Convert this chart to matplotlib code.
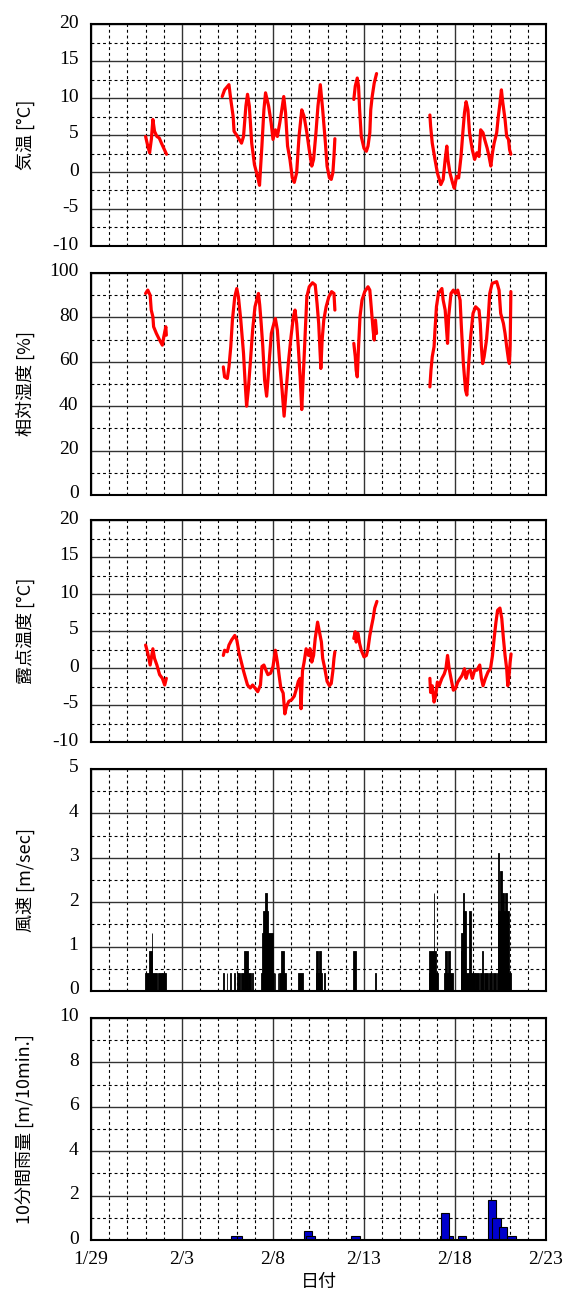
import numpy as np
import matplotlib
matplotlib.use("Agg")
import matplotlib.pyplot as plt
import matplotlib.transforms as mtransforms
from matplotlib.ticker import MultipleLocator, FixedLocator

plt.rcParams["axes.unicode_minus"] = False

nan = np.nan

# x axis: days since 1/29
date_labels = ["1/29", "2/3", "2/8", "2/13", "2/18", "2/23"]
date_ticks = [0, 5, 10, 15, 20, 25]

# air temperature [C] (nan = gap in record)
temp_day = [3.0, 3.12, 3.22, 3.32, 3.4, 3.49, 3.62, 3.75, 3.87, 4.0, 4.15, nan,
            7.21, 7.34, 7.58, 7.68, 7.81, 7.86, 8.05, 8.27, 8.38, 8.51, 8.6, 8.7, 8.83, 8.98,
            9.13, 9.26, 9.31, 9.39, 9.5, 9.59, 9.76, 9.9, 10.0, 10.13, 10.24, 10.37, 10.46,
            10.59, 10.69, 10.8, 10.93, 11.06, 11.17, 11.3, 11.43, 11.58, 11.71, 11.86, 11.99,
            12.13, 12.23, 12.36, 12.47, 12.6, 12.73, 12.88, 12.97, 13.1, 13.2, 13.29, 13.35,
            13.4, nan,
            14.44, 14.52, 14.63, 14.7, 14.76, 14.85, 15.0, 15.13, 15.22, 15.32, 15.37, 15.45,
            15.56, 15.69, nan,
            18.62, 18.66, 18.75, 18.9, 19.03, 19.22, 19.35, 19.46, 19.55, 19.61, 19.72, 19.87,
            19.96, 20.09, 20.2, 20.33, 20.43, 20.52, 20.61, 20.71, 20.8, 20.95, 21.08, 21.2,
            21.32, 21.41, 21.54, 21.63, 21.77, 21.87, 21.97, 22.06, 22.15, 22.29, 22.38, 22.47,
            22.55, 22.62, 22.75, 22.84, 22.94, 23.0, 23.07]
temp_val = [4.8, 3.5, 2.6, 4.5, 7.1, 5.5, 4.8, 4.6, 3.9, 3.2, 2.4, nan,
            10.2, 11.1, 11.8, 9.8, 7.5, 5.5, 4.8, 3.9, 4.8, 8.9, 10.5, 8.9, 3.9, 1.0,
            -0.4, -1.8, 0.3, 3.5, 8.4, 10.7, 8.9, 6.6, 4.4, 5.7, 4.8, 6.6, 8.0,
            10.2, 8.0, 3.5, 1.7, -0.8, -1.4, -0.1, 4.8, 8.4, 7.5, 5.3, 3.0,
            0.8, 1.7, 5.3, 8.9, 11.8, 8.4, 3.9, 0.8, -0.8, -1.0, -0.1, 2.1,
            4.5, nan,
            9.8, 11.6, 12.7, 11.6, 8.4, 4.8, 3.2, 2.8, 3.5, 5.3, 8.4, 10.2,
            12.0, 13.3, nan,
            7.7, 6.2, 3.9, 1.7, -0.1, -1.7, -1.0, 1.7, 3.5, 1.7, -0.1, -1.5,
            -2.2, -0.6, -0.8, 2.1, 5.3, 8.0, 9.5, 8.4, 5.3, 3.0, 1.7, 2.6,
            2.1, 5.7, 5.3, 4.4, 3.2, 2.1, 0.8, 2.6, 3.9, 5.3, 7.5, 9.3,
            11.1, 9.5, 7.1, 4.8, 4.4, 3.0, 2.4]

# relative humidity [%]
rh_day = [3.0, 3.12, 3.25, 3.31, 3.4, 3.44, 3.59, 3.77, 3.92, 4.0, 4.11, 4.14, nan,
          7.27, 7.34, 7.49, 7.58, 7.68, 7.77, 7.9, 8.01, 8.1, 8.23, 8.38, 8.46, 8.55, 8.64,
          8.75, 8.88, 9.01, 9.2, 9.27, 9.35, 9.44, 9.54, 9.65, 9.72, 9.81, 9.91, 10.0, 10.13,
          10.24, 10.37, 10.5, 10.61, 10.71, 10.84, 10.99, 11.12, 11.21, 11.3, 11.39, 11.49,
          11.58, 11.67, 11.77, 11.86, 11.99, 12.17, 12.32, 12.42, 12.51, 12.58, 12.63, 12.7,
          12.79, 12.92, 13.07, 13.22, 13.35, 13.4, nan,
          14.44, 14.52, 14.57, 14.63, 14.7, 14.78, 14.89, 15.04, 15.22, 15.32, 15.41, 15.5,
          15.56, 15.63, 15.69, nan,
          18.62, 18.68, 18.75, 18.85, 18.9, 18.98, 19.09, 19.28, 19.35, 19.46, 19.59, 19.65,
          19.78, 19.91, 20.02, 20.15, 20.28, 20.35, 20.46, 20.58, 20.65, 20.74, 20.86, 20.99,
          21.13, 21.32, 21.39, 21.45, 21.52, 21.6, 21.73, 21.82, 21.91, 22.04, 22.29, 22.42,
          22.51, 22.66, 22.75, 22.84, 22.94, 22.99, 23.03, 23.07]
rh_val = [90.8, 92.3, 90.0, 83.3, 80.3, 75.8, 72.8, 69.8, 67.5, 71.3, 75.8, 72.0, nan,
          57.7, 53.2, 52.5, 57.7, 66.8, 78.8, 89.3, 93.0, 89.3, 78.8, 63.8, 51.7, 40.0, 47.2,
          59.2, 74.3, 84.8, 90.8, 85.6, 77.3, 66.8, 51.7, 44.5, 51.7, 62.3, 72.8, 75.8, 79.5,
          74.3, 59.2, 47.2, 35.5, 45.7, 59.2, 71.3, 80.3, 83.3, 77.3, 66.8, 53.2,
          38.5, 54.7, 72.8, 89.3, 93.8, 95.6, 94.6, 86.3, 77.3, 65.3, 57.0, 69.8,
          78.8, 84.8, 89.3, 91.6, 90.8, 83.3, nan,
          68.3, 62.3, 56.2, 53.2, 66.8, 80.3, 87.8, 91.6, 93.8, 92.3, 83.3, 74.3,
          69.8, 78.8, 72.8, nan,
          48.7, 56.2, 62.3, 66.8, 74.3, 84.8, 90.8, 93.0, 87.8, 83.3, 68.3, 80.3,
          90.8, 92.3, 90.8, 92.3, 87.8, 75.8, 59.2, 47.2, 45.0, 57.7, 71.3, 81.8,
          84.8, 83.3, 77.3, 66.8, 59.2, 62.3, 69.8, 78.8, 90.8, 95.3, 96.1, 92.3,
          81.8, 77.3, 72.8, 66.8, 60.8, 59.2, 66.8, 91.6]

# dew point [C]
dew_day = [3.0, 3.12, 3.25, 3.4, 3.49, 3.62, 3.77, 3.92, 4.05, 4.14, nan,
           7.27, 7.34, 7.49, 7.58, 7.73, 7.9, 8.01, 8.14, 8.27, 8.38, 8.46, 8.6, 8.75, 8.88,
           9.01, 9.16, 9.31, 9.39, 9.5, 9.63, 9.72, 9.87, 10.0, 10.13, 10.24, 10.33, 10.43,
           10.56, 10.65, 10.74, 10.87, 11.02, 11.17, 11.3, 11.39, 11.49, 11.54, 11.62, 11.71,
           11.82, 11.95, 12.04, 12.13, 12.23, 12.32, 12.45, 12.55, 12.66, 12.73, 12.84, 12.97,
           13.1, 13.2, 13.29, 13.35, 13.4, nan,
           14.44, 14.52, 14.57, 14.67, 14.76, 14.85, 15.0, 15.13, 15.22, 15.32, 15.41, 15.5,
           15.59, 15.71, nan,
           18.62, 18.66, 18.75, 18.85, 18.94, 19.03, 19.13, 19.28, 19.41, 19.5, 19.59, 19.68,
           19.78, 19.91, 20.02, 20.15, 20.28, 20.39, 20.52, 20.61, 20.71, 20.84, 20.95, 21.08,
           21.2, 21.36, 21.45, 21.54, 21.67, 21.82, 21.95, 22.06, 22.15, 22.25, 22.34, 22.47,
           22.57, 22.66, 22.75, 22.84, 22.9, 22.97, 23.03, 23.08]
dew_val = [3.1, 2.0, 0.4, 2.6, 1.3, 0.4, -0.9, -1.4, -2.3, -1.4, nan,
           1.7, 2.4, 2.2, 3.1, 3.8, 4.4, 3.8, 2.0, 0.7, -0.4, -1.1, -2.3, -2.7, -2.3,
           -2.7, -3.2, -2.3, 0.2, 0.4, -0.4, -0.9, -0.7, 0.2, 2.4, 0.8, -0.9, -2.7,
           -3.4, -6.2, -5.2, -4.5, -4.3, -3.8, -2.7, -1.8, -1.4, -5.5, -0.4, 0.8,
           2.6, 1.7, 2.6, 0.8, 1.7, 4.0, 6.2, 4.9, 3.5, 1.3, 0.0, -1.8,
           -2.4, -2.1, -0.4, 1.3, 2.2, nan,
           4.0, 4.9, 3.5, 4.7, 3.3, 2.4, 1.5, 1.7, 2.6, 4.4, 5.6, 6.7,
           8.1, 9.0, nan,
           -1.4, -3.3, -2.4, -4.6, -3.7, -1.9, -2.4, -1.4, -0.8, -0.1, 1.7, -0.1,
           -1.4, -3.0, -2.8, -1.9, -1.4, -1.0, -0.1, -1.4, -0.5, -0.3, -1.4, -0.3,
           -0.3, 0.4, -1.4, -2.4, -1.4, -0.5, -0.1, 1.7, 4.0, 6.2, 7.8, 8.1,
           6.7, 4.0, 1.7, -0.1, -2.4, -1.0, 0.8, 1.9]

# wind speed [m/sec]: start day, end day, value
wind_start = [2.99, 3.21, 3.33, 3.37, 3.66, 3.92,
              7.27, 7.46, 7.64, 7.87, 8.02, 8.05, 8.24, 8.43, 8.65, 8.85,
              9.36, 9.39, 9.45, 9.54, 10.1, 10.25, 10.33, 10.44, 11.37,
              12.34, 12.37, 12.52, 12.82, 14.42, 15.61,
              18.59, 18.59, 18.84, 19.41, 19.45, 19.64,
              20.31, 20.31, 20.34, 20.44, 20.45, 20.75,
              21.09, 21.35, 21.6, 21.85, 21.49,
              22.11, 22.3, 22.36, 22.38, 22.48, 22.58, 22.76]
wind_end = [3.21, 3.33, 3.37, 3.62, 3.88, 4.1,
            7.30, 7.49, 7.67, 7.90, 8.05, 8.2, 8.42, 8.65, 8.8, 8.88,
            10.07, 9.99, 9.73, 9.65, 10.13, 10.28, 10.7, 10.62, 11.63,
            12.67, 12.45, 12.62, 12.85, 14.57, 15.64,
            19.04, 18.97, 18.87, 19.88, 19.56, 19.75,
            21.09, 20.38, 20.57, 20.62, 20.48, 20.87,
            21.3, 21.55, 21.8, 22.02, 21.52,
            22.26, 23.05, 22.95, 22.41, 22.56, 22.67, 22.86]
wind_val = [0.4, 0.9, 1.3, 0.4, 0.4, 0.4,
            0.4, 0.4, 0.4, 0.4, 0.4, 0.4, 0.4, 0.9, 0.4, 0.4,
            0.4, 1.3, 1.8, 2.2, 0.4, 0.4, 0.4, 0.9, 0.4,
            0.4, 0.9, 0.9, 0.4, 0.9, 0.4,
            0.4, 0.9, 2.2, 0.4, 0.9, 0.9,
            0.4, 0.9, 1.3, 1.8, 2.2, 1.8,
            0.4, 0.4, 0.4, 0.4, 0.9,
            0.4, 0.4, 1.8, 3.1, 2.7, 2.2, 2.2]

# 10-minute rainfall: start day, end day, value
rain_start = [7.71, 8.0, 11.7, 11.84, 14.31, 19.19, 19.25, 20.15, 21.8, 22.05, 22.41, 22.85]
rain_end = [8.0, 8.31, 12.14, 12.3, 14.76, 19.89, 19.69, 20.6, 22.25, 22.5, 22.85, 23.37]
rain_val = [0.2, 0.2, 0.4, 0.2, 0.2, 0.2, 1.2, 0.2, 1.8, 1.0, 0.6, 0.2]

ylabels = ["気温 [°C]", "相対湿度 [%]", "露点温度 [°C]", "風速 [m/sec]", "10分間雨量 [m/10min.]"]
ylims = [(-10, 20), (0, 100), (-10, 20), (0, 5), (0, 10)]
ysteps = [5, 20, 5, 1, 2]

jp_font = ["Noto Sans CJK JP", "DejaVu Sans"]
num_font = "Liberation Serif"

W, H = 565, 1289
fig = plt.figure(figsize=(W / 100, H / 100), dpi=100)
left, width, height = 91, 455, 222
tops = [24, 273, 520, 769, 1018]

# small upward nudge of y tick labels, as in the original
lift = mtransforms.ScaledTranslation(0, 3 / 100, fig.dpi_scale_trans)

axes = []
for i, top in enumerate(tops):
    ax = fig.add_axes([left / W, 1 - (top + height) / H, width / W, height / H])
    lo, hi = ylims[i]
    ax.set_xlim(0, 25)
    ax.set_ylim(lo, hi)
    ax.xaxis.set_major_locator(FixedLocator(date_ticks))
    ax.xaxis.set_minor_locator(MultipleLocator(1))
    ax.yaxis.set_major_locator(MultipleLocator(ysteps[i]))
    ax.yaxis.set_minor_locator(MultipleLocator(ysteps[i] / 2))
    ax.grid(which="major", color="#333333", lw=1.0, ls="-")
    ax.grid(which="minor", color="black", lw=0.8, ls=(0, (2.6, 2.6)))
    ax.set_axisbelow(True)
    ax.tick_params(which="both", length=0)
    ax.tick_params(axis="y", pad=9, labelsize=14)
    for lab in ax.get_yticklabels():
        lab.set_fontfamily(num_font)
        lab.set_transform(lab.get_transform() + lift)
    if i < 4:
        ax.set_xticklabels([])
    else:
        ax.set_xticklabels(date_labels, fontfamily=num_font, fontsize=14)
        ax.tick_params(axis="x", pad=8)
    for s in ax.spines.values():
        s.set_linewidth(1.5)
        s.set_color("black")
        s.set_zorder(5)
    fig.text(25 / W, 1 - (top + height / 2) / H, ylabels[i], rotation=90,
             ha="center", va="center", fontsize=13, family=jp_font)
    axes.append(ax)

# scatter-like series drawn as thick red traces
axes[0].plot(temp_day, temp_val, color="red", lw=2.3, solid_capstyle="round", zorder=3)
axes[1].plot(rh_day, rh_val, color="red", lw=2.3, solid_capstyle="round", zorder=3)
axes[2].plot(dew_day, dew_val, color="red", lw=2.3, solid_capstyle="round", zorder=3)

# wind speed bars
ws = np.array(wind_start)
we = np.array(wind_end)
axes[3].bar(ws, wind_val, width=we - ws, align="edge", color="black",
            edgecolor="black", lw=0.6, zorder=3)

# rainfall bars
rs = np.array(rain_start)
re_ = np.array(rain_end)
axes[4].bar(rs, rain_val, width=re_ - rs, align="edge", color="#0000CC",
            edgecolor="black", lw=0.8, zorder=3)

fig.text((left + width / 2) / W, 1 - 1282 / H, "日付", ha="center", va="center",
         fontsize=13, family=jp_font)

fig.savefig("out.png", dpi=100)
